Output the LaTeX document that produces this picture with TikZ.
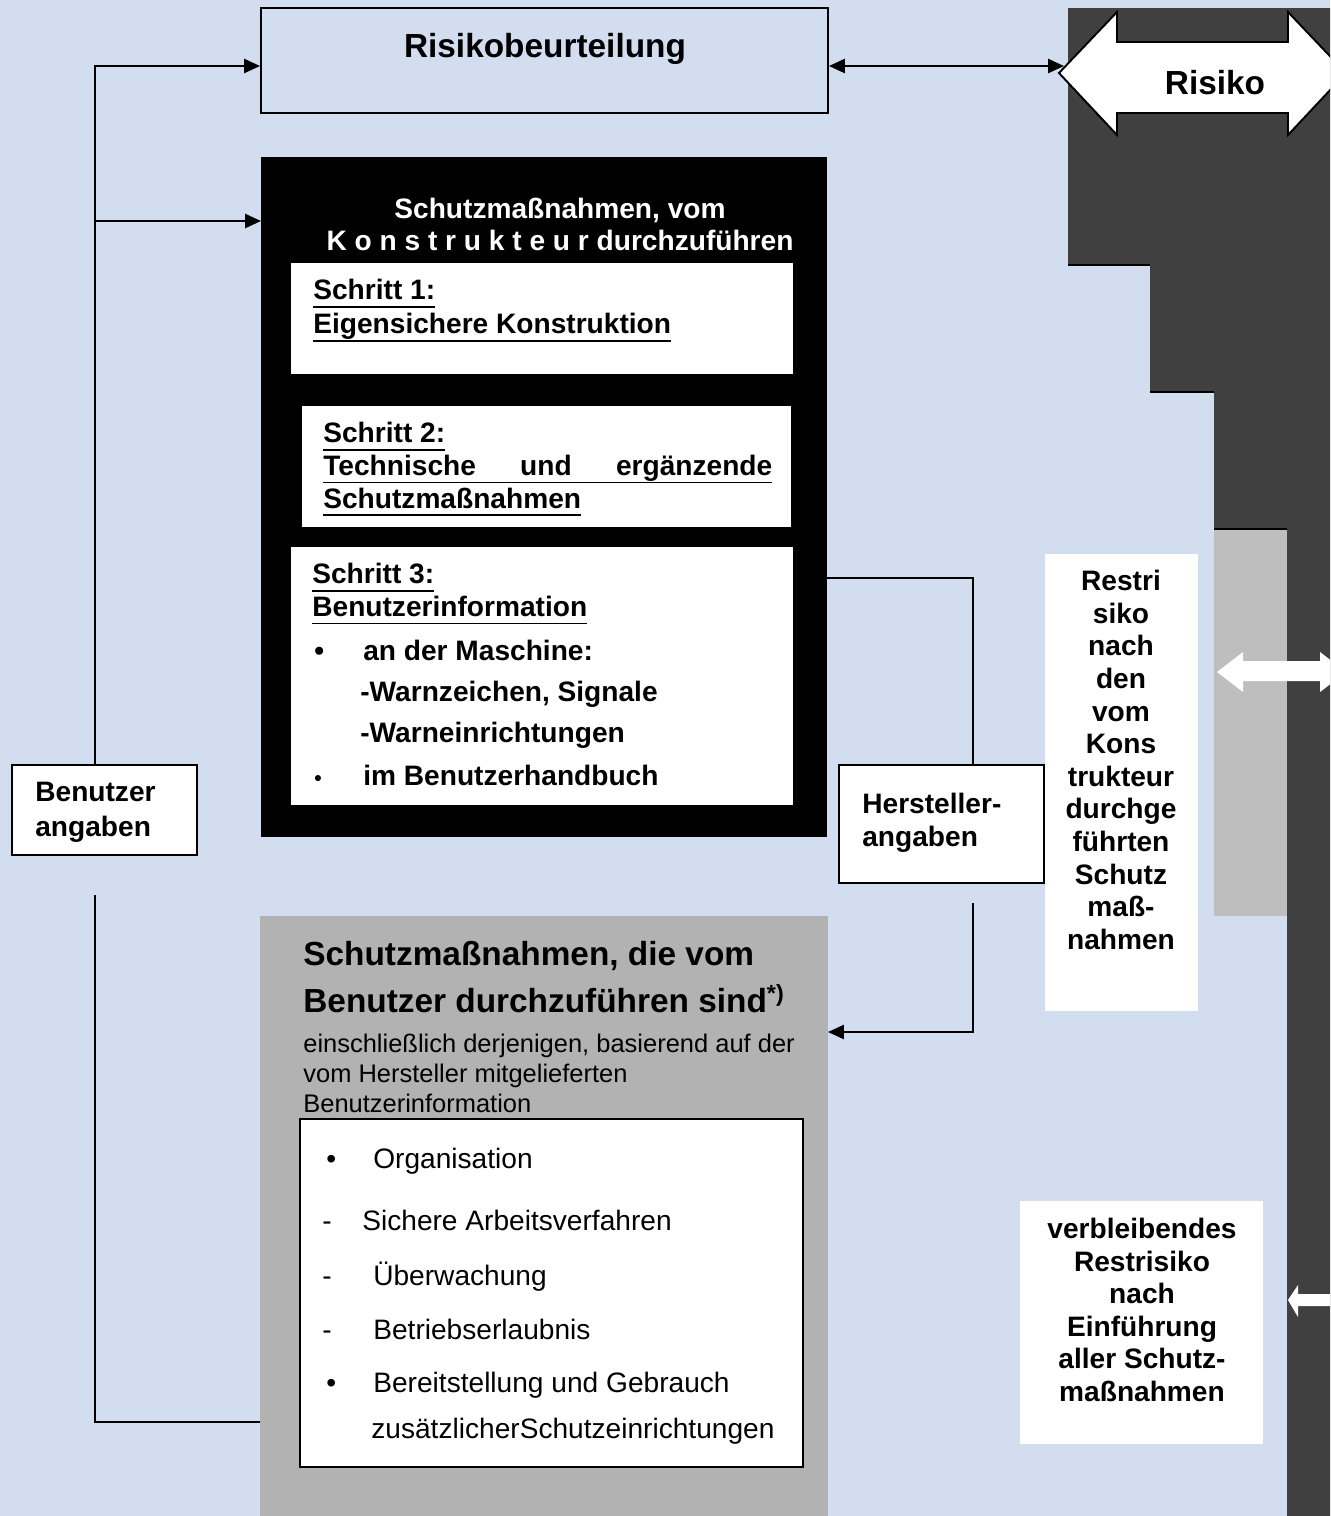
\documentclass[tikz,border=0pt]{standalone}
\usepackage{fontspec}
\setmainfont{Liberation Sans}
\usetikzlibrary{arrows.meta,fit}

\definecolor{bgblue}{RGB}{210,222,240}
\definecolor{riskdark}{RGB}{64,64,64}
\definecolor{risklight}{RGB}{190,190,190}
\definecolor{usergray}{RGB}{178,178,178}

\newcommand{\sz}[2]{\fontsize{#1}{#2}\selectfont}
\newcommand{\ulbox}[1]{\setbox0=\hbox{#1}\rlap{\rule[-4.5pt]{\wd0}{1.1pt}}\box0}

\begin{document}
\begin{tikzpicture}[x=0.02cm, y=-0.02cm,
    box/.style={draw, line width=1.1pt, inner sep=0pt},
    area/.style={inner sep=0pt, outer sep=0pt},
    txt/.style={inner sep=0pt, font=\sz{16}{18.7}\bfseries},
    item/.style={inner sep=0pt, font=\sz{16}{19}, anchor=base west},
    line/.style={line width=1.1pt},
    arr/.style={line width=1.1pt, -{Triangle[length=9pt,width=8pt]}}]

    \useasboundingbox (0,0) rectangle (1330,1516);
    \fill[bgblue] (0,0) rectangle (1330,1516);

    % risk on the right
    \fill[riskdark] (1068,8) -- (1330,8) -- (1330,1516) -- (1287,1516) -- (1287,529)
        -- (1214,529) -- (1214,392) -- (1150,392) -- (1150,265) -- (1068,265) -- cycle;
    \fill[risklight] (1214,529) rectangle (1287,916);
    \draw[line] (1068,265) -- (1150,265) (1150,392) -- (1214,392) (1214,529) -- (1287,529);

    \begin{scope}
        \clip (0,0) rectangle (1330,1516);
        \filldraw[fill=white, line width=1.1pt] (1059,73) -- (1117,12) -- (1117,42) -- (1288,42)
            -- (1288,12) -- (1346,73) -- (1288,135) -- (1288,113) -- (1117,113) -- (1117,135) -- cycle;
        \fill[white] (1217,672) -- (1243,652) -- (1243,661) -- (1320,661) -- (1320,652) -- (1346,672)
            -- (1320,692) -- (1320,681) -- (1243,681) -- (1243,692) -- cycle;
        \fill[white] (1288,1300) -- (1298,1285) -- (1298,1294) -- (1340,1294) -- (1340,1306)
            -- (1298,1306) -- (1298,1317) -- cycle;
    \end{scope}
    \node[txt, font=\sz{19}{22}\bfseries, anchor=base] (risk) at (1215,94) {Risiko};
    \coordinate (risktip) at (1064,66);

    % risk assessment
    \node[box, fit={(261,8) (828,113)}] (assess) {};
    \node[txt, font=\sz{19}{22}\bfseries, anchor=base] (assesstext) at (545,57) {Risikobeurteilung};

    % designer steps
    \node[area, fill=black, fit={(261,157) (827,837)}] (steps) {};
    \node[txt, font=\sz{16}{18.1}\bfseries, text=white, anchor=north, align=center] (stepstext) at (560,198)
        {Schutzmaßnahmen, vom\\K o n s t r u k t e u r durchzuführen};

    \node[area, fill=white, fit={(291,263) (793,374)}] (step1) {};
    \node[txt, font=\sz{16}{19.3}\bfseries, anchor=north west, align=left] (step1text) at (313,279)
        {\ulbox{Schritt 1:}\\\ulbox{Eigensichere Konstruktion}};

    \node[area, fill=white, fit={(302,406) (791,527)}] (step2) {};
    \node[txt, anchor=north west, align=left] (step2text) at (323,422)
        {\ulbox{Schritt 2:}\\\ulbox{\makebox[8.98cm][s]{Technische und ergänzende}}\\\ulbox{Schutzmaßnahmen}};

    \node[area, fill=white, fit={(291,547) (793,805)}] (step3) {};
    \node[txt, anchor=north west, align=left] (step3text) at (312,563)
        {\ulbox{Schritt 3:}\\\ulbox{Benutzerinformation}};
    \node[txt, anchor=base west] (machine) at (314,660) {\makebox[0.98cm][l]{\textbullet}an der Maschine:};
    \node[txt, anchor=base west] (signs) at (360,701) {-Warnzeichen, Signale};
    \node[txt, anchor=base west] (warn) at (360,742) {-Warneinrichtungen};
    \node[txt, anchor=base west] (manual) at (314,785) {\makebox[0.98cm][l]{\sz{12}{14}\textbullet}im Benutzerhandbuch};

    % information boxes
    \node[box, fill=white, fit={(12,765) (197,855)}] (user) {};
    \node[txt, font=\sz{16}{19.8}\bfseries, anchor=north west, align=left] (usertext) at (35,782) {Benutzer\\angaben};

    \node[box, fill=white, fit={(839,765) (1044,883)}] (maker) {};
    \node[txt, anchor=north west, align=left] (makertext) at (862,793) {Hersteller-\\angaben};

    % user measures
    \node[area, fill=usergray, fit={(260,916) (828,1516)}] (usermeas) {};
    \node[txt, font=\sz{19}{26.6}\bfseries, anchor=north west, align=left] (usertitle) at (303,941)
        {Schutzmaßnahmen, die vom\\Benutzer durchzuführen sind\textsuperscript{*)}};
    \node[txt, font=\sz{14.5}{17}, anchor=north west, align=left] (userinfo) at (303,1034)
        {einschließlich derjenigen, basierend auf der\\vom Hersteller mitgelieferten\\Benutzerinformation};
    \node[box, fill=white, fit={(300,1119) (803,1467)}] (userlist) {};
    \node[item] (organ) at (326,1168) {\makebox[0.94cm][l]{\textbullet}Organisation};
    \node[item] (safe) at (322,1230) {\makebox[0.8cm][l]{-}Sichere Arbeitsverfahren};
    \node[item] (watch) at (322,1285) {\makebox[1.02cm][l]{-}Überwachung};
    \node[item] (permit) at (322,1339) {\makebox[1.02cm][l]{-}Betriebserlaubnis};
    \node[item] (supply) at (326,1392) {\makebox[0.94cm][l]{\textbullet}Bereitstellung und Gebrauch};
    \node[item] (extra) at (371,1438) {zusätzlicherSchutzeinrichtungen};

    % residual risk
    \node[area, fill=white, fit={(1045,554) (1198,1011)}] (rest1) {};
    \node[txt, font=\sz{16}{18.55}\bfseries, anchor=north, align=center] (rest1text) at (1121,570)
        {Restri\\siko\\nach\\den\\vom\\Kons\\trukteur\\durchge\\führten\\Schutz\\maß-\\nahmen};
    \node[area, fill=white, fit={(1020,1201) (1263,1444)}] (rest2) {};
    \node[txt, font=\sz{16}{18.5}\bfseries, anchor=north, align=center] (rest2text) at (1142,1218)
        {verbleibendes\\Restrisiko\\nach\\Einführung\\aller Schutz-\\maßnahmen};

    % connectors
    \coordinate (fork) at (95,221);
    \coordinate (userlow) at (95,895);
    \coordinate (makerlow) at (973,903);

    \draw[arr] ([xshift=-0.19cm]user.north) |- (0,66 -| assess.west);
    \draw[arr] (fork) -- (fork -| steps.west);
    \draw[line] (userlow) |- (0,1422 -| usermeas.west);
    \draw[line] (0,578 -| steps.east) -| ([xshift=0.63cm]maker.north);
    \draw[arr] (makerlow) |- (0,1032 -| usermeas.east);
    \draw[line, {Triangle[length=9pt,width=8pt]}-{Triangle[length=9pt,width=8pt]}] (risktip -| assess.east) -- (risktip);
\end{tikzpicture}
\end{document}
